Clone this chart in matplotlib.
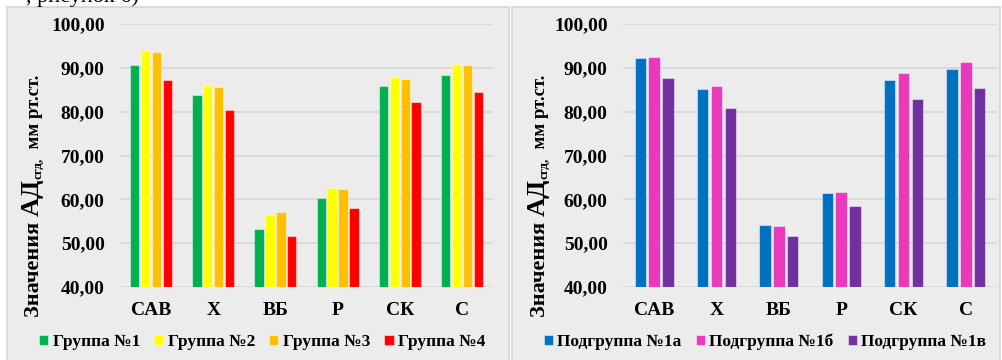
import matplotlib
matplotlib.use("Agg")
import matplotlib.pyplot as plt
from matplotlib.patches import Rectangle
import numpy as np

categories = ["САВ", "Х", "ВБ", "Р", "СК", "С"]

groups = ["Группа №1", "Группа №2", "Группа №3", "Группа №4"]
group1 = [90.6, 83.7, 53.2, 60.3, 85.8, 88.3]
group2 = [93.8, 86.1, 56.4, 62.5, 87.8, 90.8]
group3 = [93.6, 85.6, 57.1, 62.4, 87.4, 90.6]
group4 = [87.2, 80.4, 51.6, 58.1, 82.1, 84.6]
group_colors = ["#00B050", "#FFFF00", "#FFC000", "#FF0000"]

subgroups = ["Подгруппа №1а", "Подгруппа №1б", "Подгруппа №1в"]
sub1a = [92.2, 85.2, 54.1, 61.4, 87.2, 89.8]
sub1b = [92.5, 85.8, 54.0, 61.7, 88.9, 91.4]
sub1c = [87.6, 80.9, 51.7, 58.4, 82.8, 85.3]
sub_colors = ["#0070C0", "#E83ABA", "#7030A0"]

yticks = [40, 50, 60, 70, 80, 90, 100]

W, H = 1002, 360
plt.rcParams["font.family"] = ["Liberation Serif", "DejaVu Serif"]
plt.rcParams["font.weight"] = "bold"

fig = plt.figure(figsize=(W / 100, H / 100), dpi=100)
fig.patch.set_facecolor("white")


def px(x, y):
    return x / W, 1 - y / H


# panel backgrounds
for x0, x1 in [(7, 509), (512, 1000)]:
    fig.add_artist(Rectangle(px(x0, 362), (x1 - x0) / W, (362 - 7) / H,
                             transform=fig.transFigure, facecolor="#ECECEC",
                             edgecolor="#D6D6D6", linewidth=1.2, zorder=0))

# cropped line of document text above the charts
fig.text(26 / W, 1 - 2 / H, ", рисунок 6)", fontsize=16, fontweight="normal",
         ha="left", va="baseline", color="black")


def draw_panel(rect, series, names, colors, step, width):
    ax = fig.add_axes(rect)
    ax.set_facecolor("none")
    x = np.arange(len(categories))
    n = len(series)
    for i, (vals, name, col) in enumerate(zip(series, names, colors)):
        off = (i - (n - 1) / 2) * step
        ax.bar(x + off, np.array(vals) - 40, width=width, bottom=40, color=col,
               edgecolor=(1, 1, 1, 0.45), linewidth=0.8, label=name, zorder=3)
    ax.set_xlim(-0.5, len(categories) - 0.5)
    ax.set_ylim(40, 100)
    ax.set_yticks(yticks)
    ax.set_yticklabels([f"{v:.2f}".replace(".", ",") for v in yticks])
    ax.set_xticks(x)
    ax.set_xticklabels(categories)
    ax.tick_params(length=0)
    ax.tick_params(axis="y", pad=11, labelsize=14)
    ax.tick_params(axis="x", pad=11, labelsize=14)
    ax.grid(axis="y", color="#D6D6D6", linewidth=1.2, zorder=0)
    for s in ax.spines.values():
        s.set_visible(False)
    return ax


ax1 = draw_panel([120 / W, 73 / H, 373 / W, 263 / H],
                 [group1, group2, group3, group4], groups, group_colors,
                 step=0.175, width=0.15)
ax2 = draw_panel([623 / W, 73 / H, 374 / W, 263 / H],
                 [sub1a, sub1b, sub1c], subgroups, sub_colors,
                 step=0.222, width=0.185)

for ax, cx in [(ax1, 262), (ax2, 765)]:
    h, l = ax.get_legend_handles_labels()
    fig.legend(h, l, loc="center", bbox_to_anchor=px(cx, 342), ncol=len(l),
               frameon=False, fontsize=12.5, handlelength=0.55, handleheight=0.55,
               handletextpad=0.25, columnspacing=0.8, borderaxespad=0)

# y label built from pieces so the "АД" and subscript can differ in size
renderer = fig.canvas.get_renderer()


def ylabel(xb, ystart):
    pieces = [("Значения ", 16, 0), ("АД", 19, 0), ("сгд,", 9.5, 3), ("  мм рт.ст.", 13.5, 0)]
    y = ystart
    for txt, size, dx in pieces:
        t = fig.text((xb + dx) / W, 1 - y / H, txt, fontsize=size, rotation=90,
                     rotation_mode="anchor", ha="left", va="baseline")
        bb = t.get_window_extent(renderer)
        y -= bb.height


ylabel(39, 317)
ylabel(545, 317)

fig.savefig("out.png", dpi=100)
